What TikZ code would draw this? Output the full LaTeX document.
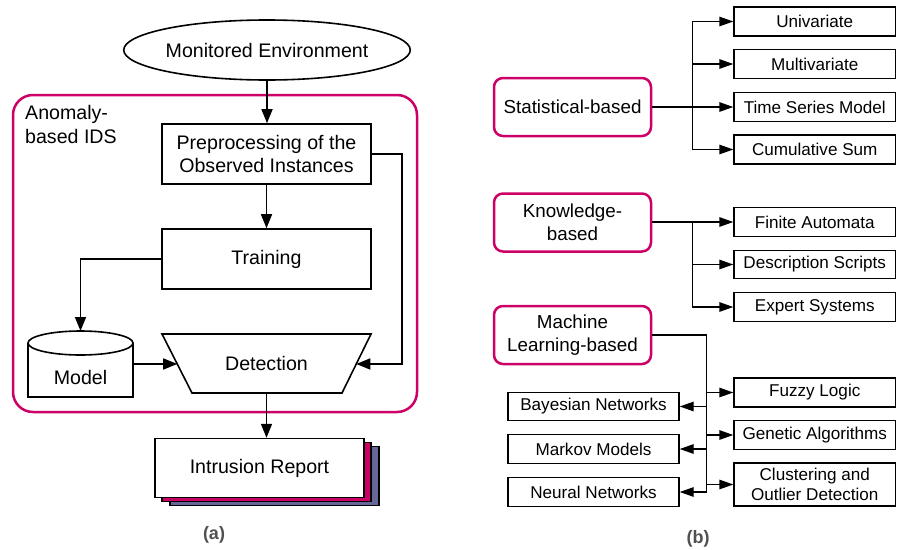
\documentclass[tikz,border=0pt]{standalone}
\usepackage{fontspec}
\setmainfont{Liberation Sans}
\usetikzlibrary{arrows.meta,calc,shapes.geometric}
\definecolor{pinkc}{RGB}{204,0,102}
\definecolor{purplec}{RGB}{102,102,153}
\definecolor{greyc}{RGB}{80,80,80}
\begin{document}
\begin{tikzpicture}[x=1pt,y=-1pt,
  lfont/.style={font=\fontsize{19.6}{23.5}\selectfont},
  rfont/.style={font=\fontsize{17.1}{20.5}\selectfont},
  cfont/.style={font=\fontsize{18.8}{22.7}\selectfont},
  lbox/.style={draw, line width=1.6pt, lfont, align=center, inner sep=0pt, fill=white},
  rbox/.style={draw, line width=1.4pt, rfont, align=center, inner sep=0pt, fill=white},
  catbox/.style={draw=pinkc, line width=2.5pt, rounded corners=9pt, cfont, align=center,
     minimum width=157, minimum height=58, inner sep=0pt},
  larr/.style={line width=1.6pt, -{Triangle[length=14pt,width=11pt]}},
  rarr/.style={line width=1.4pt, -{Triangle[length=14pt,width=9.5pt]}},
  rline/.style={line width=1.4pt},
  sublabel/.style={font=\fontsize{18}{21}\selectfont\bfseries, text=greyc, inner sep=0pt},
]
\useasboundingbox (0,0) rectangle (897,549);

% ---------------- (a) ----------------
\node[draw=pinkc, line width=2.5pt, rounded corners=20pt, minimum width=404, minimum height=317] (ids) at (215,253.5) {};
\node[lfont, align=left, anchor=west, inner sep=0pt] (idslabel) at (25,124.5) {Anomaly-\\based IDS};

\node[draw, ellipse, line width=1.6pt, lfont, minimum width=270, minimum height=60, inner sep=0pt] (env) at (267,50) {Monitored Environment};
\node[lbox, minimum width=209, minimum height=60] (pre) at (266.5,154) {Preprocessing of the\\Observed Instances};
\node[lbox, minimum width=209, minimum height=60] (train) at (266.5,259) {Training};

% detection trapezoid
\coordinate (dtl) at (162,334);
\coordinate (dtr) at (371,334);
\coordinate (dbr) at (342,393);
\coordinate (dbl) at (192,393);
\draw[line width=1.6pt, fill=white] (dtl) -- (dtr) -- (dbr) -- (dbl) -- cycle;
\node[lfont] (det) at (266.5,363) {Detection};
\coordinate (detL) at ($(dtl)!0.508!(dbl)$);
\coordinate (detR) at ($(dtr)!0.508!(dbr)$);
\coordinate (detB) at (266.5,393);

% model cylinder
\draw[line width=1.6pt, fill=white] (28,343) -- (28,397) -- (133,397) -- (133,343);
\draw[line width=1.6pt, fill=white] (80.5,343) ellipse [x radius=52.5, y radius=12];
\node[lfont] (model) at (80.5,377) {Model};
\coordinate (modeltop) at (80.5,331);
\coordinate (modelright) at (133,364);

% intrusion report stack
\node[draw, line width=1.4pt, fill=purplec, minimum width=209, minimum height=59, inner sep=0pt] (rep3) at (274.5,476) {};
\node[draw, line width=1.4pt, fill=pinkc, minimum width=209, minimum height=59, inner sep=0pt] (rep2) at (266.5,472) {};
\node[lbox, line width=1.4pt, minimum width=209, minimum height=59] (report) at (259.5,468) {Intrusion Report};

% connectors (a)
\draw[larr] (env.south) -- (env.south |- pre.north);
\draw[larr] (pre.south) -- (train.north);
\draw[larr] (train.west) -| (modeltop);
\draw[larr] (modelright) -- (detL);
\draw[larr] (pre.east) -- ++(30,0) |- (detR);
\draw[larr] (detB) -- (detB |- report.north);

\node[sublabel] (la) at (214,535) {(a)};

% ---------------- (b) ----------------
\node[catbox] (stat) at (572.5,107) {Statistical-based};
\node[catbox] (know) at (572.5,222.5) {Knowledge-\\based};
\node[catbox] (ml) at (572.5,335) {Machine\\Learning-based};

\node[rbox, minimum width=161.5, minimum height=29] (uni) at (814.75,21.5) {Univariate};
\node[rbox, minimum width=161.5, minimum height=29] (multi) at (814.75,64) {Multivariate};
\node[rbox, minimum width=161.5, minimum height=29] (ts) at (814.75,107) {Time Series Model};
\node[rbox, minimum width=161.5, minimum height=29] (cum) at (814.75,149.5) {Cumulative Sum};

\node[rbox, minimum width=161.5, minimum height=28.5] (fa) at (814.75,222) {Finite Automata};
\node[rbox, minimum width=161.5, minimum height=28.5] (desc) at (814.75,264.5) {Description Scripts};
\node[rbox, minimum width=161.5, minimum height=28.5] (exp) at (814.75,307) {Expert Systems};

\node[rbox, minimum width=161.5, minimum height=29] (fuzzy) at (814.75,392.5) {Fuzzy Logic};
\node[rbox, minimum width=161.5, minimum height=28.5] (gen) at (814.75,435) {Genetic Algorithms};
\node[rbox, minimum width=161.5, minimum height=43] (clus) at (814.75,484.5) {Clustering and\\Outlier Detection};

\node[rbox, minimum width=171, minimum height=28.5] (bayes) at (593.5,406.5) {Bayesian Networks};
\node[rbox, minimum width=171, minimum height=28.5] (markov) at (593.5,449) {Markov Models};
\node[rbox, minimum width=171, minimum height=28.5] (neural) at (593.5,492) {Neural Networks};

% statistical connectors
\coordinate (st) at (692.7,107);
\draw[rarr] (stat.east) -- (ts.west);
\draw[rarr] (st) |- (uni.west);
\draw[rarr] (st) |- (cum.west);
\draw[rarr] (st |- multi.west) -- (multi.west);

% knowledge connectors
\coordinate (kt) at (692.7,222);
\draw[rarr] (know.east |- fa.west) -- (fa.west);
\draw[rarr] (kt) |- (exp.west);
\draw[rarr] (kt |- desc.west) -- (desc.west);

% machine learning connectors
\coordinate (mlbot) at (706.7,492);
\draw[rline] (ml.east) -| (mlbot);
\draw[rarr] (mlbot |- fuzzy.west) -- (fuzzy.west);
\draw[rarr] (mlbot |- gen.west) -- (gen.west);
\draw[rarr] (mlbot |- clus.west) -- (clus.west);
\draw[rarr] (mlbot |- bayes.east) -- (bayes.east);
\draw[rarr] (mlbot |- markov.east) -- (markov.east);
\draw[rarr] (mlbot) -- (neural.east);

\node[sublabel] (lb) at (698,539) {(b)};
\end{tikzpicture}
\end{document}
